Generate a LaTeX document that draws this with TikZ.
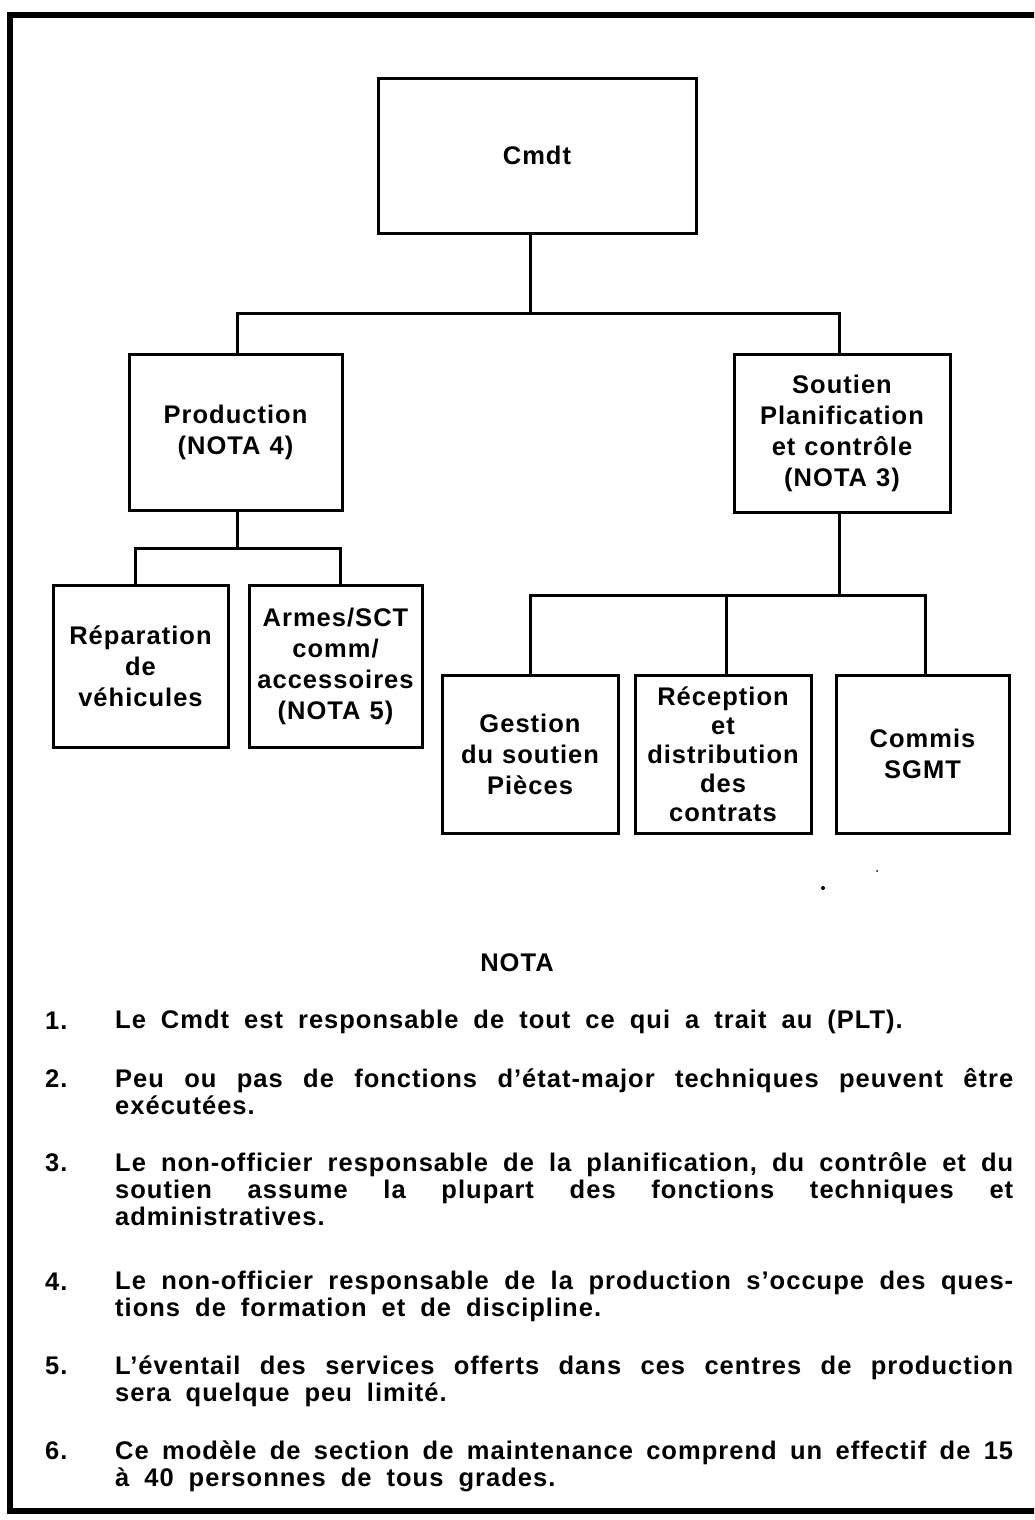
\documentclass[tikz,border=0pt]{standalone}
\usepackage{fontspec}
\setmainfont{Liberation Sans}[LetterSpace=4]
\newcommand\jline[1]{\makebox[898pt][s]{#1}}
\newcommand\lline[1]{\makebox[898pt][l]{#1}}
\newcommand\nfont{\fontsize{25.5}{27}\selectfont\bfseries\spaceskip=15pt plus 40pt minus 4pt\relax}
\newcommand\bfont[1]{\fontsize{25.5}{#1}\selectfont\bfseries\spaceskip=9pt plus 4pt minus 2pt\relax}
\begin{document}
\begin{tikzpicture}[x=1pt,y=-1pt,
  box/.style={draw, line width=3pt, inner sep=0pt, align=center,
    font=\bfont{31}},
  conn/.style={line width=3pt},
  frame/.style={line width=6pt},
  notetxt/.style={inner sep=0pt, align=left, anchor=north west, font=\nfont},
  notenum/.style={inner sep=0pt, anchor=base west, font=\nfont},
  speck/.style={fill=black, inner sep=0pt, circle}]
\useasboundingbox (0,0) rectangle (1034,1520);
\clip (0,0) rectangle (1034,1520);
% outer frame (right side falls outside the page)
\draw[frame] (1050,15) -- (7,15);
\draw[frame] (10,12) -- (10,1514);
\draw[frame] (7,1511) -- (1050,1511);

% boxes
\node[box, minimum width=318pt, minimum height=155pt] (cmdt) at (537,155.5) {Cmdt};
\node[box, minimum width=213pt, minimum height=156pt] (prod) at (235.5,432) {Production\\(NOTA 4)};
\node[box, minimum width=216pt, minimum height=158pt] (sout) at (842,433) {Soutien\\Planification\\et contrôle\\(NOTA 3)};
\node[box, minimum width=175pt, minimum height=162pt] (rep) at (140.5,666) {Réparation\\de\\véhicules};
\node[box, minimum width=173pt, minimum height=162pt] (arm) at (335.5,666) {Armes/SCT\\comm/\\accessoires\\(NOTA 5)};
\node[box, minimum width=176pt, minimum height=158pt] (ges) at (530,754) {Gestion\\du soutien\\Pièces};
\node[box, minimum width=176pt, minimum height=158pt, font=\bfont{29}] (rec) at (723,754) {Réception\\et\\distribution\\des\\contrats};
\node[box, minimum width=173pt, minimum height=158pt] (com) at (922.5,754) {Commis\\SGMT};

% junction points
\coordinate (b0) at (530,313);
\coordinate (bL) at (237,313);
\coordinate (bR) at (839,313);
\coordinate (pj) at (237,548);
\coordinate (pL) at (135,548);
\coordinate (pR) at (340,548);
\coordinate (sj) at (839,595);
\coordinate (sL) at (530,595);
\coordinate (sM) at (726,595);
\coordinate (sR) at (925,595);

% connectors
\draw[conn] (cmdt.south -| b0) -- (b0);
\draw[conn] (prod.north -| bL) -- (bL) -- (bR) -- (sout.north -| bR);
\draw[conn] (prod.south -| pj) -- (pj);
\draw[conn] (rep.north -| pL) -- (pL) -- (pR) -- (arm.north -| pR);
\draw[conn] (sout.south -| sj) -- (sj);
\draw[conn] (ges.north -| sL) -- (sL) -- (sR) -- (com.north -| sR);
\draw[conn] (rec.north -| sM) -- (sM);

% specks
\node[speck, minimum size=4pt] (sp1) at (823,888) {};
\node[speck, minimum size=2pt] (sp2) at (877,871) {};

% notes
\node[inner sep=0pt, anchor=base, font=\nfont] (nota) at (517,971) {NOTA};

\node[notenum] (k1) at (45,1029) {1.};
\node[notetxt] (t1) at (115,1010.1) {\lline{Le Cmdt est responsable de tout ce qui a trait au (PLT).}};

\node[notenum] (k2) at (45,1087) {2.};
\node[notetxt] (t2) at (115,1068.1) {\jline{Peu ou pas de fonctions d’état-major techniques peuvent être}\\
\lline{exécutées.}};

\node[notenum] (k3) at (45,1171) {3.};
\node[notetxt] (t3) at (115,1152.1) {\jline{Le non-officier responsable de la planification, du contrôle et du}\\
\jline{soutien assume la plupart des fonctions techniques et}\\
\lline{administratives.}};

\node[notenum] (k4) at (45,1290) {4.};
\node[notetxt] (t4) at (115,1271.1) {\jline{Le non-officier responsable de la production s’occupe des ques-}\\
\lline{tions de formation et de discipline.}};

\node[notenum] (k5) at (45,1374) {5.};
\node[notetxt] (t5) at (115,1355.1) {\jline{L’éventail des services offerts dans ces centres de production}\\
\lline{sera quelque peu limité.}};

\node[notenum] (k6) at (45,1459) {6.};
\node[notetxt] (t6) at (115,1440.1) {\jline{Ce modèle de section de maintenance comprend un effectif de 15}\\
\lline{à 40 personnes de tous grades.}};
\end{tikzpicture}
\end{document}
